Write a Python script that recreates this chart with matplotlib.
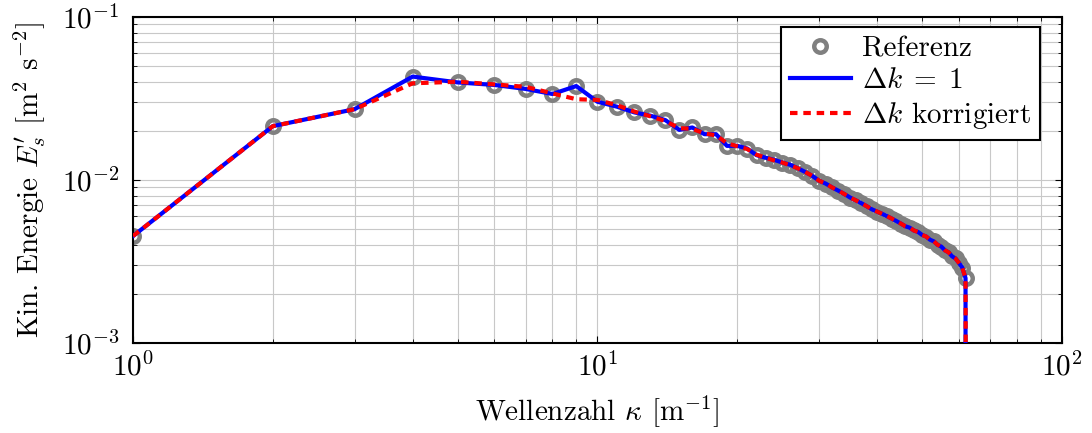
import matplotlib
matplotlib.use("Agg")
import matplotlib.pyplot as plt
from matplotlib.ticker import LogLocator, NullFormatter

# wavenumbers and spectral energy
kappa = list(range(1, 63))
e_ref = [0.00453, 0.0214, 0.0272, 0.0431, 0.0397, 0.0383, 0.0362, 0.0337, 0.0377, 0.0302,
         0.0282, 0.0260, 0.0248, 0.0233, 0.0203, 0.0210, 0.0191, 0.0191, 0.0162, 0.0162,
         0.0156, 0.0142, 0.0137, 0.0133, 0.0128, 0.0124, 0.0118, 0.0112, 0.0106, 0.0099,
         0.0095, 0.0090, 0.0086, 0.0082, 0.0078, 0.0075, 0.0072, 0.0069, 0.0066, 0.0064,
         0.0062, 0.0060, 0.0058, 0.0056, 0.0054, 0.0052, 0.0051, 0.0049, 0.0048, 0.0046,
         0.0045, 0.0043, 0.0042, 0.0040, 0.0039, 0.0037, 0.0036, 0.0034, 0.0033, 0.0031,
         0.0029, 0.0025]
e_dk1 = list(e_ref)
e_corr = [0.00453, 0.0214, 0.0272, 0.0392, 0.0401, 0.0386, 0.0373, 0.0340, 0.0313, 0.0310,
          0.0288, 0.0263, 0.0246, 0.0230, 0.0208, 0.0206, 0.0193, 0.0188, 0.0168, 0.0161,
          0.0155, 0.0143, 0.0137, 0.0132, 0.0128, 0.0123, 0.0118, 0.0112, 0.0106, 0.0099,
          0.0095, 0.0090, 0.0086, 0.0082, 0.0078, 0.0075, 0.0072, 0.0069, 0.0066, 0.0064,
          0.0062, 0.0060, 0.0058, 0.0056, 0.0054, 0.0052, 0.0051, 0.0049, 0.0048, 0.0046,
          0.0045, 0.0043, 0.0042, 0.0040, 0.0039, 0.0037, 0.0036, 0.0034, 0.0033, 0.0031,
          0.0029, 0.0025]
# spectrum cut-off beyond the last resolved wavenumber
k_cut_dk1, k_cut_corr = 62.0, 62.4
e_cut = 1e-6

x_ticks = [1, 10, 100]
x_ticklabels = [r"$10^{0}$", r"$10^{1}$", r"$10^{2}$"]
y_ticks = [1e-3, 1e-2, 1e-1]
y_ticklabels = [r"$10^{-3}$", r"$10^{-2}$", r"$10^{-1}$"]

plt.rcParams["font.family"] = "serif"
plt.rcParams["font.serif"] = ["cmr10"]
plt.rcParams["mathtext.fontset"] = "cm"
plt.rcParams["axes.unicode_minus"] = False
plt.rcParams["axes.formatter.use_mathtext"] = True

FS = 21

fig = plt.figure(figsize=(10.92, 4.33), dpi=100)
ax = fig.add_axes([0.1218, 0.2079, 0.8507, 0.7528])

ax.plot(kappa, e_ref, linestyle="none", marker="o", ms=9, mfc="none", mec="#808080",
        mew=3.2, label="Referenz", zorder=2)
ax.plot(kappa + [k_cut_dk1], e_dk1 + [e_cut], color="#0000ff", lw=3,
        label=r"$\Delta k\;=\;1$", zorder=3)
ax.plot(kappa + [k_cut_corr], e_corr + [e_cut], color="#ff0000", lw=3,
        linestyle=(0, (1.8, 1.4)), label=r"$\Delta k$ korrigiert", zorder=4)

ax.set_xscale("log")
ax.set_yscale("log")
ax.set_xlim(1, 100)
ax.set_ylim(1e-3, 1e-1)

for axis in (ax.xaxis, ax.yaxis):
    axis.set_minor_locator(LogLocator(base=10, subs=range(2, 10)))
    axis.set_minor_formatter(NullFormatter())
ax.set_xticks(x_ticks, x_ticklabels)
ax.set_yticks(y_ticks, y_ticklabels)

ax.grid(True, which="major", color="#c8c8c8", lw=0.8)
ax.grid(True, which="minor", color="#c8c8c8", lw=0.8)
ax.set_axisbelow(True)
ax.tick_params(which="both", direction="in", top=True, right=True, labelsize=FS)
ax.tick_params(axis="x", which="major", pad=7)
ax.tick_params(axis="y", which="major", pad=10)
ax.tick_params(which="major", length=5)
ax.tick_params(which="minor", length=3)
for s in ax.spines.values():
    s.set_linewidth(1.5)

ax.set_xlabel(r"Wellenzahl $\kappa$ [m$^{-1}$]", fontsize=FS, labelpad=8)
ax.set_ylabel(r"Kin. Energie $E_s'$ [m$^2$ s$^{-2}$]", fontsize=FS, labelpad=10)

leg = ax.legend(loc="upper right", bbox_to_anchor=(0.9763, 0.9693), fontsize=FS,
                frameon=True, fancybox=False, framealpha=1, edgecolor="black",
                borderpad=0.3, labelspacing=0.2, handlelength=2.1,
                handletextpad=0.4, borderaxespad=0)
leg.get_frame().set_linewidth(1.5)

fig.savefig("out.png", dpi=100)
